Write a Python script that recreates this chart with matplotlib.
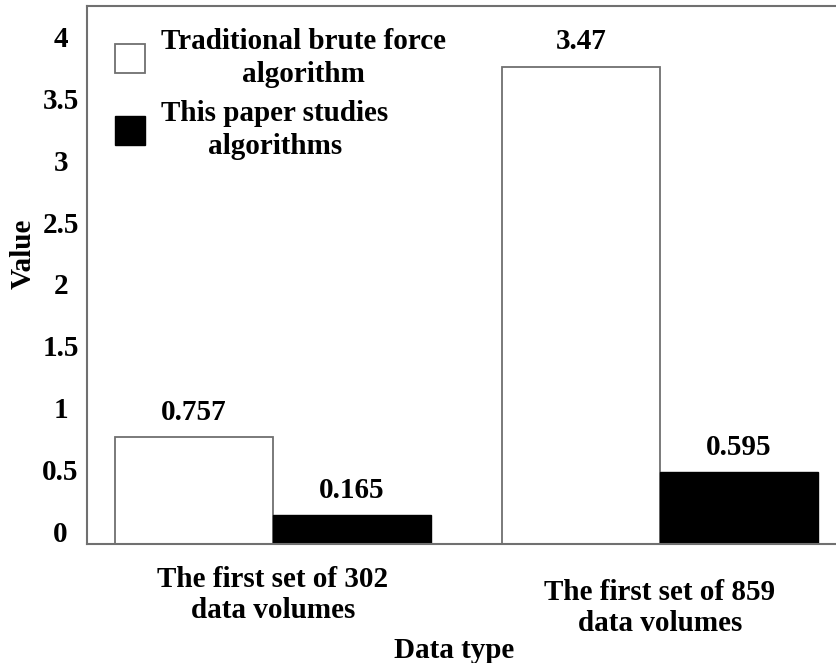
import matplotlib.pyplot as plt
import matplotlib.transforms as mtransforms
import numpy as np

plt.rcParams['font.family'] = ['Liberation Serif', 'DejaVu Serif']
plt.rcParams['font.weight'] = 'bold'

categories = ["The first set of 302\ndata volumes", "The first set of 859\ndata volumes"]
series_names = ["Traditional brute force\nalgorithm", "This paper studies\nalgorithms"]
# bar heights as drawn in the picture, labels as printed on the picture
traditional = [0.76, 3.76]
this_paper = [0.13, 0.48]
traditional_labels = ["0.757", "3.47"]
this_paper_labels = ["0.165", "0.595"]
yticks = [0, 0.5, 1, 1.5, 2, 2.5, 3, 3.5, 4]
ytick_labels = ["0", "0.5", "1", "1.5", "2", "2.5", "3", "3.5", "4"]

FS = 21

fig = plt.figure(figsize=(8.37, 6.63), dpi=100)
ax = fig.add_axes([87 / 837, 119 / 663, 750 / 837, 538 / 663])

ymin, ymax = -0.105, 4.25
x = np.arange(len(categories))
w = 0.408
b1 = ax.bar(x - w / 2, np.array(traditional) - ymin, w, bottom=ymin,
            color='white', edgecolor='#707070', linewidth=1.3, label=series_names[0])
b2 = ax.bar(x + w / 2, np.array(this_paper) - ymin, w, bottom=ymin,
            color='black', edgecolor='black', linewidth=1.0, label=series_names[1])

for bars, labels in [(b1, traditional_labels), (b2, this_paper_labels)]:
    for rect, lab in zip(bars, labels):
        ax.annotate(lab, (rect.get_x() + rect.get_width() / 2, rect.get_y() + rect.get_height()),
                    xytext=(0, 8), textcoords='offset points', ha='center', va='bottom',
                    fontsize=FS, fontweight='bold')

ax.set_ylim(ymin, ymax)
ax.set_xlim(-0.48, 1.457)
ax.set_yticks(yticks)
ax.set_yticklabels(ytick_labels, fontsize=FS, fontweight='bold', ha='center')
ax.tick_params(axis='y', length=0, pad=19)
ax.set_xticks(x)
ax.set_xticklabels(categories, fontsize=FS, fontweight='bold', linespacing=1.2)
ax.tick_params(axis='x', length=0, pad=16)
# the second category label sits a little lower in the original
lbl = ax.get_xticklabels()[1]
lbl.set_transform(lbl.get_transform() + mtransforms.ScaledTranslation(0, -9 / 72, fig.dpi_scale_trans))

ax.set_xlabel("Data type", fontsize=FS, fontweight='bold')
ax.xaxis.set_label_coords(0.49, -0.172)
ax.set_ylabel("Value", fontsize=FS, fontweight='bold')
ax.yaxis.set_label_coords(-0.067, 0.54)

for s in ['left', 'top', 'bottom']:
    ax.spines[s].set_color('#707070')
    ax.spines[s].set_linewidth(1.5)
ax.spines['right'].set_visible(False)

leg = ax.legend(loc='upper left', bbox_to_anchor=(0.002, 1.008), frameon=False,
                handlelength=1.05, handleheight=1.15, handletextpad=0.55,
                labelspacing=0.4, prop={'weight': 'bold', 'size': FS})
for t in leg.get_texts():
    t.set_multialignment('center')
    t.set_linespacing(1.3)

fig.savefig('out.png', dpi=100)
